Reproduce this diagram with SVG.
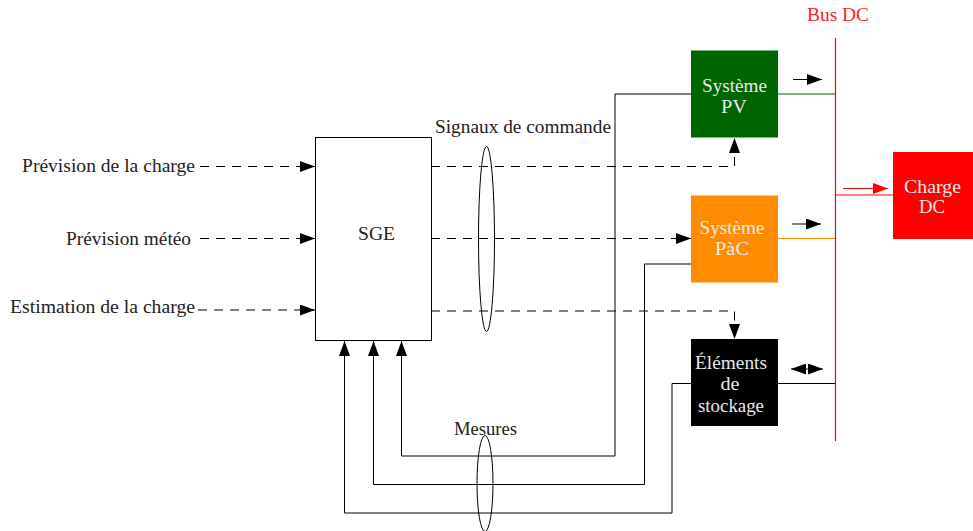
<svg xmlns="http://www.w3.org/2000/svg" width="973" height="531" viewBox="0 0 973 531">
<style>
text{font-family:"Liberation Serif","Times New Roman",serif;font-size:18.500px;fill:#222;text-anchor:middle}
.w{fill:#e8e8e8}
.l{fill:none;stroke:#000;stroke-width:1}
.d{fill:none;stroke:#000;stroke-width:1;stroke-dasharray:9 7}
.red{fill:none;stroke:#f00;stroke-width:1.200}
</style>
<defs>
<marker id="a" viewBox="0 0 15 11" refX="15" refY="5.500" markerWidth="15" markerHeight="11" markerUnits="userSpaceOnUse" orient="auto"><path d="M0 0L15 5.500L0 11Z" fill="#000"/></marker>
<marker id="r" viewBox="0 0 15 11" refX="15" refY="5.500" markerWidth="15" markerHeight="11" markerUnits="userSpaceOnUse" orient="auto"><path d="M0 0L15 5.500L0 11Z" fill="#f00"/></marker>
</defs>
<rect width="973" height="531" fill="#fff"/>
<g id="connectors">
<path class="d" d="M200 166.500H315" marker-end="url(#a)"/>
<path class="d" d="M200 238.500H315" marker-end="url(#a)"/>
<path class="d" d="M198 310H315" marker-end="url(#a)"/>
<path class="d" d="M431 166.500H734.500V138" marker-end="url(#a)"/>
<path class="d" d="M431 238.500H691" marker-end="url(#a)"/>
<path class="d" d="M431 311H734.500V339" marker-end="url(#a)"/>
<path class="l" d="M691 94H615V456H401.500V341" marker-end="url(#a)"/>
<path class="l" d="M691 264H644.500V484.500H373.500V341" marker-end="url(#a)"/>
<path class="l" d="M691 383.500H672V513H344.500V341" marker-end="url(#a)"/>
<path d="M778 94H835" fill="none" stroke="#006400"/>
<path d="M778 238.500H835" fill="none" stroke="#ff8c00"/>
<path class="l" d="M778 383.500H835"/>
<path class="red" d="M835.500 38V441"/>
<path class="red" d="M836 195H893"/>
<path class="l" d="M793 79.500H822" marker-end="url(#a)"/>
<path class="l" d="M792 224H821" marker-end="url(#a)"/>
<path class="l" d="M807 369H823" marker-end="url(#a)"/>
<path class="l" d="M807 369H791" marker-end="url(#a)"/>
<path class="red" d="M843 188.500H888" marker-end="url(#r)"/>
</g>
<g id="sge"><rect x="315.500" y="137.500" width="116" height="203" fill="#fff" stroke="#000"/><text x="376.500" y="240" textLength="37" lengthAdjust="spacingAndGlyphs">SGE</text></g>
<g id="pv"><rect x="691" y="50.500" width="87" height="87" fill="#006400"/><text class="w" x="734.500" y="92" textLength="65" lengthAdjust="spacingAndGlyphs">Système</text><text class="w" x="734" y="113" textLength="26" lengthAdjust="spacingAndGlyphs">PV</text></g>
<g id="pac"><rect x="691" y="195.500" width="87" height="87" fill="#ff8c00"/><text class="w" x="732" y="234" textLength="65" lengthAdjust="spacingAndGlyphs">Système</text><text class="w" x="732" y="255" textLength="34" lengthAdjust="spacingAndGlyphs">PàC</text></g>
<g id="stockage"><rect x="691" y="339" width="87" height="87" fill="#000"/><text class="w" x="731" y="369" textLength="72" lengthAdjust="spacingAndGlyphs">Éléments</text><text class="w" x="730" y="390" textLength="19" lengthAdjust="spacingAndGlyphs">de</text><text class="w" x="731" y="412" textLength="66" lengthAdjust="spacingAndGlyphs">stockage</text></g>
<g id="charge"><rect x="893" y="152" width="80" height="87" fill="#f00"/><text class="w" x="932.500" y="193" textLength="57" lengthAdjust="spacingAndGlyphs">Charge</text><text class="w" x="932" y="213" textLength="26" lengthAdjust="spacingAndGlyphs">DC</text></g>
<g id="signaux-ellipse"><ellipse cx="486.500" cy="239" rx="8" ry="92.500" fill="none" stroke="#000"/></g>
<g id="mesures-ellipse"><ellipse cx="485" cy="483.500" rx="8" ry="48" fill="none" stroke="#000"/></g>
<g id="labels">
<text x="108.500" y="172" textLength="173" lengthAdjust="spacingAndGlyphs">Prévision de la charge</text>
<text x="128.500" y="245" textLength="125" lengthAdjust="spacingAndGlyphs">Prévision météo</text>
<text x="102.500" y="313" textLength="185" lengthAdjust="spacingAndGlyphs">Estimation de la charge</text>
<text x="523" y="133" textLength="176" lengthAdjust="spacingAndGlyphs">Signaux de commande</text>
<text x="485.500" y="435" textLength="63" lengthAdjust="spacingAndGlyphs">Mesures</text>
<text x="838" y="21" textLength="62" lengthAdjust="spacingAndGlyphs" style="fill:#f22">Bus DC</text>
</g>
</svg>
